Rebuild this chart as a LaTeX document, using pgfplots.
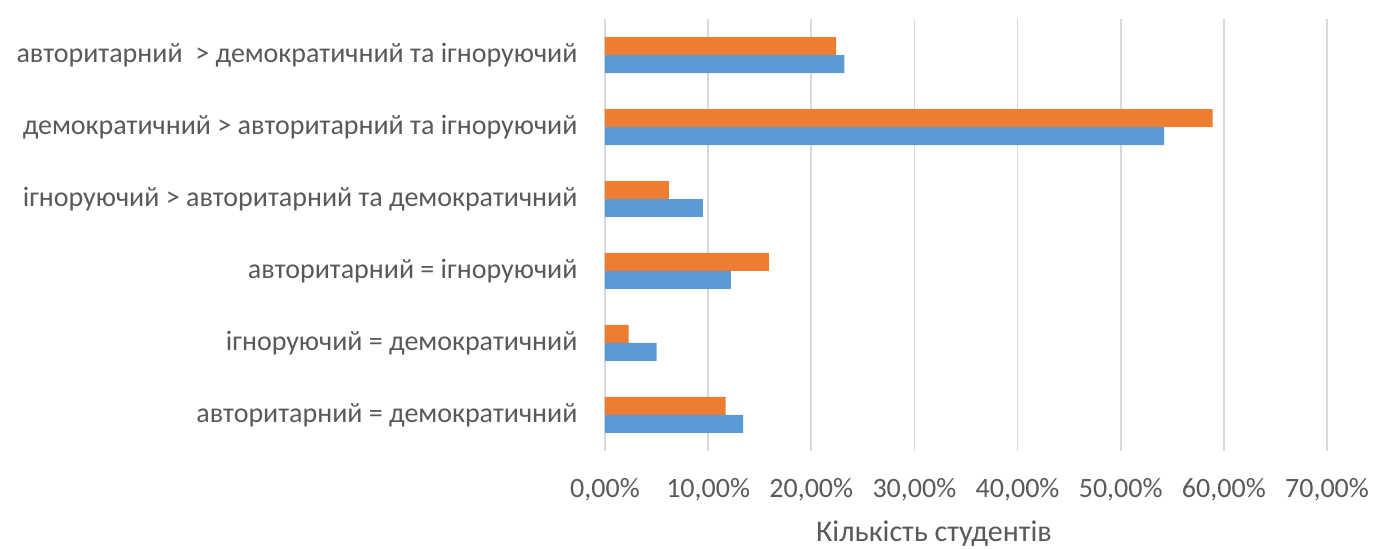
\documentclass[border=0pt]{standalone}
\usepackage{pgfplots}
\pgfplotsset{compat=1.18}
\usepackage{fontspec}
\setmainfont{Carlito}
\definecolor{orb}{HTML}{ED7D31}
\definecolor{blb}{HTML}{5B9BD5}
\definecolor{txg}{HTML}{595959}
\definecolor{grl}{HTML}{D9D9D9}
\begin{document}
\begin{tikzpicture}
\begin{axis}[
  scale only axis, width=361pt, height=216pt,
  xmin=0, xmax=70, ymin=-0.5, ymax=5.5,
  xtick={0,10,...,70},
  xticklabels={{0,00\%},{10,00\%},{20,00\%},{30,00\%},{40,00\%},{50,00\%},{60,00\%},{70,00\%}},
  ytick={0,...,5},
  yticklabels={{авторитарний = демократичний},{ігноруючий = демократичний},{авторитарний = ігноруючий},{ігноруючий > авторитарний та демократичний},{демократичний > авторитарний та ігноруючий},{авторитарний\ \ > демократичний та ігноруючий}},
  xmajorgrids, major grid style={grl, line width=0.8pt},
  axis line style={draw=none},
  tick style={draw=none},
  ticklabel style={font=\fontsize{14}{16}\selectfont, text=txg},
  yticklabel style={xshift=-6pt},
  xticklabel style={yshift=-10pt},
  xlabel={Кількість студентів},
  xlabel style={font=\fontsize{15}{17}\selectfont, text=txg, xshift=-16pt, yshift=-3pt},
  xbar, bar width=0.25,
]
\addplot[fill=orb, draw=none, bar shift=0.125] coordinates {(11.7,0) (2.3,1) (15.9,2) (6.2,3) (58.9,4) (22.4,5)};
\addplot[fill=blb, draw=none, bar shift=-0.125] coordinates {(13.4,0) (5.0,1) (12.2,2) (9.5,3) (54.2,4) (23.2,5)};
\path (rel axis cs:0,0) coordinate (A) (rel axis cs:1,1) coordinate (B);
\end{axis}
\pgfresetboundingbox
\path ([xshift=-302.5pt,yshift=-49pt]A) rectangle ([xshift=25pt,yshift=9.5pt]B);
\end{tikzpicture}
\end{document}
